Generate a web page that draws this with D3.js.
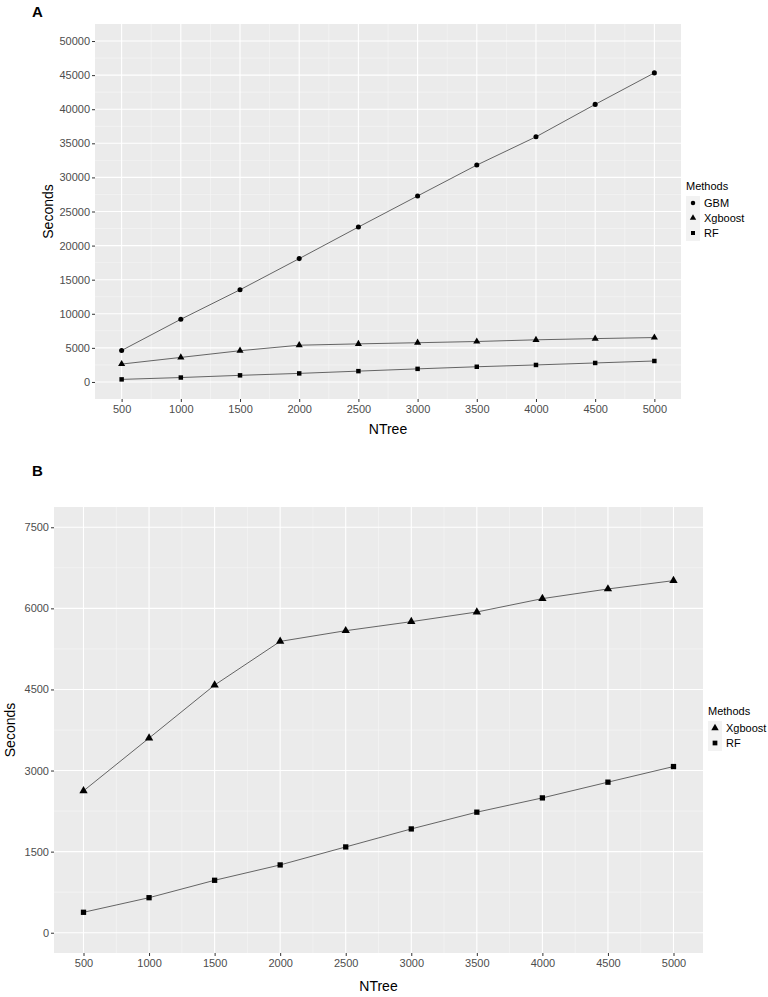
<!DOCTYPE html>
<html>
<head>
<meta charset="utf-8">
<script src="https://cdn.jsdelivr.net/npm/d3@7"></script>
<style>
body { margin: 0; background: #fff; }
svg { font-family: "Liberation Sans", Arial, sans-serif; }
.tick text { fill: #4d4d4d; font-size: 11px; }
.tick line { stroke: #333; }
.domain { display: none; }
</style>
</head>
<body>
<div id="chart"></div>
<script>
// values
let ntree = [500, 1000, 1500, 2000, 2500, 3000, 3500, 4000, 4500, 5000];
let gbm = [4620, 9190, 13520, 18090, 22720, 27280, 31810, 35950, 40710, 45330];
let xgboost = [2624, 3600, 4581, 5389, 5587, 5754, 5933, 6180, 6359, 6513];
let rf = [378, 648, 970, 1254, 1587, 1920, 2230, 2494, 2785, 3074];
let xTicks = [500, 1000, 1500, 2000, 2500, 3000, 3500, 4000, 4500, 5000];
let yTicksA = [0, 5000, 10000, 15000, 20000, 25000, 30000, 35000, 40000, 45000, 50000];
let yTicksB = [0, 1500, 3000, 4500, 6000, 7500];

let svg = d3.select("#chart").append("svg").attr("width", 768).attr("height", 997);

let shapes = {circle: d3.symbolCircle, triangle: d3.symbolTriangle, square: d3.symbolSquare};

function panel(cfg) {
    let g = svg.append("g");
    let x = d3.scaleLinear().domain([275, 5225]).range([cfg.left, cfg.right]);
    let y = d3.scaleLinear().domain(cfg.ydom).range([cfg.bottom, cfg.top]);

    g.append("rect").attr("x", cfg.left).attr("y", cfg.top)
        .attr("width", cfg.right - cfg.left).attr("height", cfg.bottom - cfg.top)
        .attr("fill", "#ebebeb");

    // minor grid at midpoints
    let xMinor = xTicks.slice(0, -1).map((d, i) => (d + xTicks[i + 1]) / 2).concat([250]);
    let yMinor = cfg.yticks.slice(0, -1).map((d, i) => (d + cfg.yticks[i + 1]) / 2);
    g.selectAll(".xminor").data(xMinor.filter(d => x(d) > cfg.left)).enter().append("line")
        .attr("x1", d => x(d)).attr("x2", d => x(d)).attr("y1", cfg.top).attr("y2", cfg.bottom)
        .attr("stroke", "#f7f7f7").attr("stroke-width", 0.6);
    g.selectAll(".yminor").data(yMinor).enter().append("line")
        .attr("y1", d => y(d)).attr("y2", d => y(d)).attr("x1", cfg.left).attr("x2", cfg.right)
        .attr("stroke", "#f7f7f7").attr("stroke-width", 0.6);
    g.selectAll(".xmajor").data(xTicks).enter().append("line")
        .attr("x1", d => x(d)).attr("x2", d => x(d)).attr("y1", cfg.top).attr("y2", cfg.bottom)
        .attr("stroke", "#fff").attr("stroke-width", 1.1);
    g.selectAll(".ymajor").data(cfg.yticks).enter().append("line")
        .attr("y1", d => y(d)).attr("y2", d => y(d)).attr("x1", cfg.left).attr("x2", cfg.right)
        .attr("stroke", "#fff").attr("stroke-width", 1.1);

    g.append("g").attr("transform", "translate(0," + cfg.bottom + ")")
        .call(d3.axisBottom(x).tickValues(xTicks).tickSize(3).tickPadding(3).tickFormat(d3.format("d")));
    g.append("g").attr("transform", "translate(" + cfg.left + ",0)")
        .call(d3.axisLeft(y).tickValues(cfg.yticks).tickSize(3).tickPadding(2).tickFormat(d3.format("d")));

    let line = d3.line().x(d => x(d[0])).y(d => y(d[1]));
    cfg.series.forEach(s => {
        let pts = ntree.map((n, i) => [n, s.values[i]]);
        g.append("path").datum(pts).attr("d", line)
            .attr("fill", "none").attr("stroke", "#555").attr("stroke-width", 0.9);
        g.selectAll(null).data(pts).enter().append("path")
            .attr("transform", d => "translate(" + x(d[0]) + "," + y(d[1]) + ")")
            .attr("d", d3.symbol().type(shapes[s.shape]).size(s.size))
            .attr("fill", "#000");
    });

    g.append("text").attr("x", 32).attr("y", cfg.labelY).text(cfg.label)
        .attr("font-weight", "bold").attr("font-size", 15);
    g.append("text").attr("x", (cfg.left + cfg.right) / 2).attr("y", cfg.xTitleY)
        .attr("text-anchor", "middle").attr("font-size", 14).text("NTree");
    g.append("text").attr("transform", "translate(" + cfg.yTitleX + "," + (cfg.top + cfg.bottom) / 2 + ") rotate(-90)")
        .attr("text-anchor", "middle").attr("font-size", 14).text("Seconds");

    // legend
    let lg = svg.append("g").attr("transform", "translate(" + cfg.legX + "," + cfg.legY + ")");
    lg.append("text").attr("x", 0).attr("y", 0).attr("font-size", 11).text("Methods");
    cfg.series.forEach((s, i) => {
        let cy = 13 + i * 15;
        lg.append("rect").attr("x", 0).attr("y", cy - 7).attr("width", 14).attr("height", 15).attr("fill", "#f2f2f2");
        lg.append("path").attr("transform", "translate(7," + cy + ")")
            .attr("d", d3.symbol().type(shapes[s.shape]).size(s.size * 0.8)).attr("fill", "#000");
        lg.append("text").attr("x", 18).attr("y", cy + 4).attr("font-size", 11).text(s.name);
    });
}

panel({
    label: "A", labelY: 17,
    left: 95, right: 681, top: 24, bottom: 399,
    ydom: [-2500, 52500], yticks: yTicksA,
    xTitleY: 434, yTitleX: 53,
    legX: 686, legY: 190,
    series: [
        {name: "GBM", values: gbm, shape: "circle", size: 20},
        {name: "Xgboost", values: xgboost, shape: "triangle", size: 22},
        {name: "RF", values: rf, shape: "square", size: 20}
    ]
});

panel({
    label: "B", labelY: 476,
    left: 54, right: 703, top: 507, bottom: 953,
    ydom: [-375, 7875], yticks: yTicksB,
    xTitleY: 991, yTitleX: 15,
    legX: 708, legY: 715,
    series: [
        {name: "Xgboost", values: xgboost, shape: "triangle", size: 30},
        {name: "RF", values: rf, shape: "square", size: 28}
    ]
});
</script>
</body>
</html>
